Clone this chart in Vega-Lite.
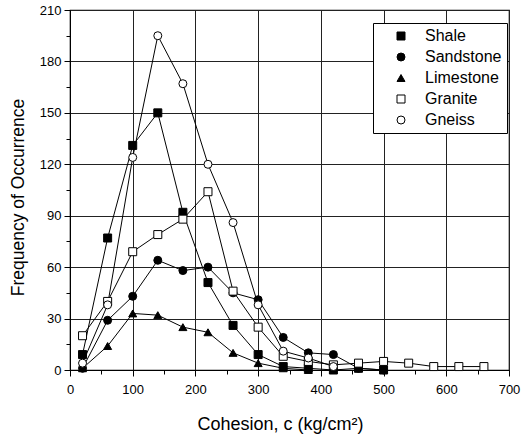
{
  "$schema": "https://vega.github.io/schema/vega-lite/v6.json",
  "autosize": "none",
  "width": 439,
  "height": 360,
  "padding": {"left": 70, "top": 10, "right": 12, "bottom": 74},
  "background": "white",
  "config": {
    "font": "Liberation Sans",
    "view": {"stroke": "black", "strokeWidth": 1.2},
    "axis": {"labelFont": "Liberation Sans", "titleFont": "Liberation Sans", "labelColor": "black", "titleColor": "black", "domainColor": "black", "tickColor": "black", "gridColor": "#222", "gridOpacity": 1, "gridWidth": 1, "labelFlush": false},
    "legend": {"title": null, "orient": "none", "legendX": 303, "legendY": 13, "strokeColor": "black", "fillColor": "white", "padding": 5, "labelFontSize": 16, "labelColor": "black", "rowPadding": 5, "symbolSize": 64, "symbolOffset": 15, "labelOffset": 16, "symbolStrokeWidth": 1}
  },
  "data": {"values": [
    {"c":20,"rock":"Shale","n":9},{"c":60,"rock":"Shale","n":77},{"c":100,"rock":"Shale","n":131},{"c":140,"rock":"Shale","n":150},{"c":180,"rock":"Shale","n":92},{"c":220,"rock":"Shale","n":51},{"c":260,"rock":"Shale","n":26},{"c":300,"rock":"Shale","n":9},{"c":340,"rock":"Shale","n":2},{"c":380,"rock":"Shale","n":1},{"c":420,"rock":"Shale","n":0},{"c":460,"rock":"Shale","n":1},{"c":500,"rock":"Shale","n":0},
    {"c":20,"rock":"Sandstone","n":1},{"c":60,"rock":"Sandstone","n":29},{"c":100,"rock":"Sandstone","n":43},{"c":140,"rock":"Sandstone","n":64},{"c":180,"rock":"Sandstone","n":58},{"c":220,"rock":"Sandstone","n":60},{"c":260,"rock":"Sandstone","n":45},{"c":300,"rock":"Sandstone","n":41},{"c":340,"rock":"Sandstone","n":19},{"c":380,"rock":"Sandstone","n":10},{"c":420,"rock":"Sandstone","n":9},{"c":460,"rock":"Sandstone","n":1},{"c":500,"rock":"Sandstone","n":0},
    {"c":20,"rock":"Limestone","n":1},{"c":60,"rock":"Limestone","n":14},{"c":100,"rock":"Limestone","n":33},{"c":140,"rock":"Limestone","n":32},{"c":180,"rock":"Limestone","n":25},{"c":220,"rock":"Limestone","n":22},{"c":260,"rock":"Limestone","n":10},{"c":300,"rock":"Limestone","n":4},{"c":340,"rock":"Limestone","n":1},{"c":380,"rock":"Limestone","n":0},
    {"c":20,"rock":"Granite","n":20},{"c":60,"rock":"Granite","n":40},{"c":100,"rock":"Granite","n":69},{"c":140,"rock":"Granite","n":79},{"c":180,"rock":"Granite","n":88},{"c":220,"rock":"Granite","n":104},{"c":260,"rock":"Granite","n":46},{"c":300,"rock":"Granite","n":25},{"c":340,"rock":"Granite","n":8},{"c":380,"rock":"Granite","n":5},{"c":420,"rock":"Granite","n":3},{"c":460,"rock":"Granite","n":4},{"c":500,"rock":"Granite","n":5},{"c":540,"rock":"Granite","n":4},{"c":580,"rock":"Granite","n":2},{"c":620,"rock":"Granite","n":2},{"c":660,"rock":"Granite","n":2},
    {"c":20,"rock":"Gneiss","n":4},{"c":60,"rock":"Gneiss","n":38},{"c":100,"rock":"Gneiss","n":124},{"c":140,"rock":"Gneiss","n":195},{"c":180,"rock":"Gneiss","n":167},{"c":220,"rock":"Gneiss","n":120},{"c":260,"rock":"Gneiss","n":86},{"c":300,"rock":"Gneiss","n":38},{"c":340,"rock":"Gneiss","n":11},{"c":380,"rock":"Gneiss","n":7},{"c":420,"rock":"Gneiss","n":2}
  ]},
  "resolve": {"axis": {"x": "independent", "y": "independent"}},
  "layer": [
    {
      "mark": {"type": "line", "color": "black", "strokeWidth": 1},
      "encoding": {
        "x": {"field": "c", "type": "quantitative", "scale": {"domain": [0, 700], "nice": false},
          "axis": {"values": [0,100,200,300,400,500,600,700], "grid": true, "title": "Cohesion, c (kg/cm²)", "titleFontSize": 18, "titleFontWeight": "normal", "labelFontSize": 13, "tickSize": 6, "labelPadding": 7, "titlePadding": 19, "titleX": 210}},
        "y": {"field": "n", "type": "quantitative", "scale": {"domain": [0, 210], "nice": false},
          "axis": {"values": [0,30,60,90,120,150,180,210], "grid": true, "title": "Frequency of Occurrence", "titleFontSize": 17.5, "titleFontWeight": "normal", "labelFontSize": 13, "tickSize": 6, "labelPadding": 3, "titlePadding": 12, "titleY": 187}},
        "detail": {"field": "rock"}
      }
    },
    {
      "mark": {"type": "point", "filled": true, "strokeWidth": 1, "size": 64, "opacity": 1},
      "encoding": {
        "x": {"field": "c", "type": "quantitative", "scale": {"domain": [0, 700], "nice": false},
          "axis": {"orient": "bottom", "values": [50,150,250,350,450,550,650], "grid": false, "labels": false, "domain": false, "title": null, "tickSize": 4}},
        "y": {"field": "n", "type": "quantitative", "scale": {"domain": [0, 210], "nice": false},
          "axis": {"orient": "left", "values": [15,45,75,105,135,165,195], "grid": false, "labels": false, "domain": false, "title": null, "tickSize": 4}},
        "shape": {"field": "rock", "type": "nominal",
          "scale": {"domain": ["Shale","Sandstone","Limestone","Granite","Gneiss"], "range": ["square","circle","triangle-up","square","circle"]}},
        "fill": {"field": "rock", "type": "nominal",
          "scale": {"domain": ["Shale","Sandstone","Limestone","Granite","Gneiss"], "range": ["black","black","black","white","white"]}},
        "stroke": {"field": "rock", "type": "nominal",
          "scale": {"domain": ["Shale","Sandstone","Limestone","Granite","Gneiss"], "range": ["black","black","black","black","black"]}}
      }
    }
  ]
}
